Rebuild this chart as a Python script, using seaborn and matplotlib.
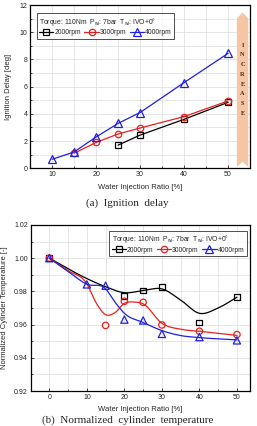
import numpy as np
import pandas as pd
import matplotlib
matplotlib.use('Agg')
import matplotlib.pyplot as plt
from matplotlib.lines import Line2D
from matplotlib.patches import Polygon
from matplotlib.ticker import MultipleLocator, FormatStrFormatter
import seaborn as sns

# (a) ignition delay
ratio_a_2000 = [25, 30, 40, 50]
delay_2000 = [1.70, 2.44, 3.60, 4.85]
ratio_a_3000 = [15, 20, 25, 30, 40, 50]
delay_3000 = [1.10, 1.90, 2.52, 2.96, 3.80, 4.95]
ratio_a_4000 = [10, 15, 20, 25, 30, 40, 50]
delay_4000 = [0.66, 1.20, 2.30, 3.30, 4.10, 6.30, 8.45]

# (b) normalized cylinder temperature, measured points
ratio_b_2000 = [0, 20, 25, 30, 40, 50]
temp_2000 = [1.000, 0.977, 0.9805, 0.9825, 0.9613, 0.9766]
ratio_b_3000 = [0, 15, 20, 25, 30, 40, 50]
temp_3000 = [1.000, 0.9595, 0.974, 0.9734, 0.9598, 0.956, 0.954]
ratio_b_4000 = [0, 10, 15, 20, 25, 30, 40, 50]
temp_4000 = [1.000, 0.9842, 0.9834, 0.963, 0.9625, 0.9544, 0.9525, 0.9505]

# (b) trend curves, knots
knot_x_2000 = [0, 10, 15, 20, 25, 30, 35, 40, 45, 50]
knot_y_2000 = [1.000, 0.9877, 0.9828, 0.9792, 0.9805, 0.9815, 0.9748, 0.9668, 0.9700, 0.9765]
knot_x_3000 = [0, 5, 10, 12.5, 15, 17.5, 20, 22.5, 25, 30, 35, 40, 50]
knot_y_3000 = [1.000, 0.9925, 0.9845, 0.9730, 0.9660, 0.9672, 0.9728, 0.9736, 0.9725, 0.9608, 0.9572, 0.9560, 0.9535]
knot_x_4000 = [0, 5, 10, 15, 17.5, 20, 25, 30, 35, 40, 50]
knot_y_4000 = [1.000, 0.992, 0.9843, 0.9815, 0.9735, 0.9668, 0.9613, 0.9564, 0.9534, 0.9522, 0.9508]

rpm_labels = ['2000rpm', '3000rpm', '4000rpm']
colors = ['black', '#e8201c', '#1f1fe0']
markers = ['s', 'o', '^']
msizes = [4.2, 4.6, 5.2]

legend_title = 'Torque: 110Nm  P$_{wi}$: 7bar  T$_{wi}$: IVO+0$\\degree$'


def smooth(xk, yk, n=300):
    # cubic hermite curve through the knots
    xk = np.asarray(xk, float)
    yk = np.asarray(yk, float)
    m = np.gradient(yk, xk)
    xs = np.linspace(xk[0], xk[-1], n)
    i = np.clip(np.searchsorted(xk, xs) - 1, 0, len(xk) - 2)
    h = xk[i + 1] - xk[i]
    t = (xs - xk[i]) / h
    ys = ((2 * t**3 - 3 * t**2 + 1) * yk[i] + (t**3 - 2 * t**2 + t) * h * m[i]
          + (-2 * t**3 + 3 * t**2) * yk[i + 1] + (t**3 - t**2) * h * m[i + 1])
    return xs, ys


sns.set_style('white')
plt.rcParams['font.family'] = ['Liberation Sans', 'DejaVu Sans']
plt.rcParams['mathtext.fontset'] = 'custom'
plt.rcParams['mathtext.rm'] = 'Liberation Sans'
plt.rcParams['mathtext.it'] = 'Liberation Sans'

fig = plt.figure(figsize=(2.57, 4.26), dpi=100)
ax1 = fig.add_axes([0.117, 0.605, 0.856, 0.383])
ax2 = fig.add_axes([0.119, 0.082, 0.854, 0.390])


def style_axes(ax):
    ax.grid(which='both', color='#dcdcdc', linewidth=0.5)
    ax.set_axisbelow(True)
    for s in ax.spines.values():
        s.set_color('black')
        s.set_linewidth(0.9)
    ax.tick_params(which='both', direction='in', labelsize=5, pad=2,
                   bottom=True, left=True, width=0.6)
    ax.tick_params(which='major', length=2.2)
    ax.tick_params(which='minor', length=1.2)


leg_kw = dict(ncol=3, fontsize=4.9, title_fontsize=4.9, frameon=True, fancybox=False,
              edgecolor='black', handlelength=2.1, handletextpad=0.15,
              columnspacing=0.5, borderpad=0.35, labelspacing=0.2, alignment='left')

# ---- (a)
series_a = [(ratio_a_2000, delay_2000), (ratio_a_3000, delay_3000), (ratio_a_4000, delay_4000)]
for (x, y), c, mk, ms, lab in zip(series_a, colors, markers, msizes, rpm_labels):
    sns.lineplot(x=x, y=y, ax=ax1, color=c, marker=mk, markersize=ms,
                 markerfacecolor='none', markeredgecolor=c, markeredgewidth=0.9,
                 linewidth=0.9, label=lab, sort=False)
ax1.set_xlim(5, 55)
ax1.set_ylim(0, 12)
ax1.xaxis.set_major_locator(MultipleLocator(10))
ax1.xaxis.set_minor_locator(MultipleLocator(5))
ax1.yaxis.set_major_locator(MultipleLocator(2))
ax1.yaxis.set_minor_locator(MultipleLocator(1))
style_axes(ax1)
ax1.set_xlabel('Water Injection Ratio [%]', fontsize=5.5, labelpad=4)
ax1.set_ylabel('Ignition Delay [deg]', fontsize=5.5, labelpad=5)

leg1 = ax1.legend(title=legend_title, loc='upper left', bbox_to_anchor=(0.015, 0.97), **leg_kw)
leg1.get_frame().set_linewidth(0.6)

# INCREASE arrow
arrow = Polygon([(0.94, 0.918), (0.966, 0.955), (0.992, 0.918), (0.992, 0.008),
                 (0.966, 0.04), (0.94, 0.008)], closed=True, transform=ax1.transAxes,
                facecolor='#f6c6a4', edgecolor='none', zorder=1)
ax1.add_patch(arrow)
word = 'INCREASE'
for k, ch in enumerate(word):
    yk = 0.755 - k * (0.755 - 0.337) / (len(word) - 1)
    ax1.text(0.966, yk, ch, transform=ax1.transAxes, ha='center', va='center',
             fontsize=4.5, fontweight='bold', family='Liberation Serif', color='#3a2a20')

# ---- (b)
knots = [(knot_x_2000, knot_y_2000), (knot_x_3000, knot_y_3000), (knot_x_4000, knot_y_4000)]
points = [(ratio_b_2000, temp_2000), (ratio_b_3000, temp_3000), (ratio_b_4000, temp_4000)]
for (kx, ky), (px, py), c, mk, ms in zip(knots, points, colors, markers, msizes):
    xs, ys = smooth(kx, ky)
    sns.lineplot(x=xs, y=ys, ax=ax2, color=c, linewidth=0.9, sort=False)
    sns.scatterplot(x=px, y=py, ax=ax2, marker=mk, s=ms**2, facecolor='none',
                    edgecolor=c, linewidth=0.9, zorder=3)
ax2.set_xlim(-5, 53.5)
ax2.set_ylim(0.92, 1.02)
ax2.xaxis.set_major_locator(MultipleLocator(10))
ax2.xaxis.set_minor_locator(MultipleLocator(5))
ax2.yaxis.set_major_locator(MultipleLocator(0.02))
ax2.yaxis.set_minor_locator(MultipleLocator(0.01))
ax2.yaxis.set_major_formatter(FormatStrFormatter('%.2f'))
style_axes(ax2)
ax2.set_xlabel('Water Injection Ratio [%]', fontsize=5.5, labelpad=4)
ax2.set_ylabel('Normalized Cylinder Temperature [-]', fontsize=5.5, labelpad=4)

handles = [Line2D([], [], color=c, marker=mk, markersize=ms, markerfacecolor='none',
                  markeredgewidth=0.9, linewidth=0.9)
           for c, mk, ms in zip(colors, markers, msizes)]
leg2 = ax2.legend(handles, rpm_labels, title=legend_title, loc='upper right',
                  bbox_to_anchor=(1.0, 0.985), **leg_kw)
leg2.get_frame().set_linewidth(0.6)

# captions
fig.text(0.496, 0.5235, '(a)  Ignition  delay', ha='center', va='center',
         fontsize=8, family='Liberation Serif')
fig.text(0.496, 0.002, '(b)  Normalized  cylinder  temperature', ha='center', va='bottom',
         fontsize=8, family='Liberation Serif')

fig.savefig('out.png', dpi=100)
